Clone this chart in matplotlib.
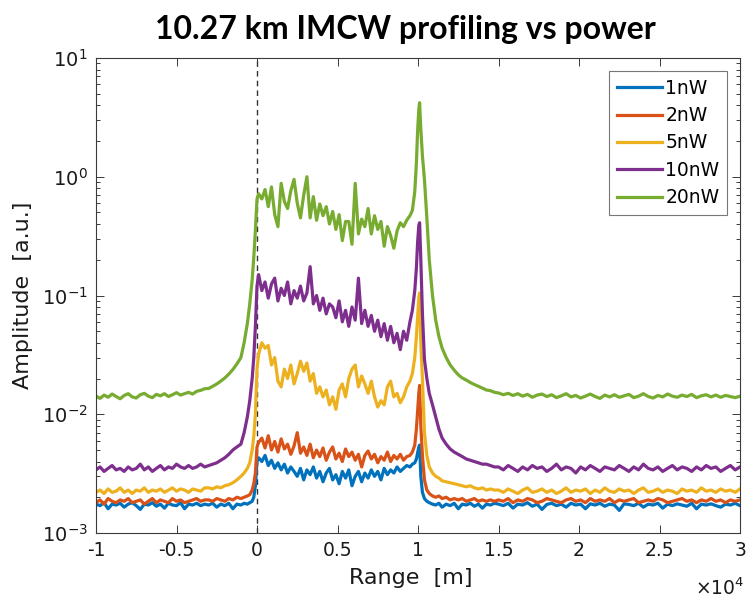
import numpy as np
import matplotlib
matplotlib.use("Agg")
import matplotlib.pyplot as plt
from matplotlib.ticker import LogLocator, FixedLocator, FuncFormatter, NullFormatter

# ---------------- data (range in metres, amplitude in units of 1e-3 a.u.) ----------------
UNIT = 1e-3
range_m = np.concatenate([
    np.arange(-10000, -3000, 250),                                   # 28 pts
    [-3000, -2750, -2500, -2250, -2000, -1750, -1500, -1250, -1000,
     -800, -600, -450, -300, -200, -100, 0],                         # 16 pts
    np.arange(100, 9501, 200),                                       # 48 pts
    [9650, 9800, 9900, 9975, 10050, 10100, 10175, 10275, 10400,
     10550, 10700, 10900],                                           # 12 pts
    [11100, 11300, 11500, 11750, 12000, 12250, 12500, 12750, 13000,
     13250, 13500, 13750, 14000, 14250, 14500, 14750],               # 16 pts
    np.arange(15000, 30001, 300),                                    # 51 pts
])

labels = ["1nW", "2nW", "5nW", "10nW", "20nW"]

amp_1nW = [
    1.75, 1.7, 1.8, 1.6, 1.75, 1.72, 1.78, 1.65, 1.75, 1.8, 1.7, 1.58, 1.75, 1.72, 1.8, 1.68, 1.75, 1.62, 1.78, 1.72,
    1.7, 1.8, 1.6, 1.75, 1.72, 1.78, 1.7, 1.75,
    1.72, 1.78, 1.65, 1.75, 1.7, 1.78, 1.6, 1.75, 1.72, 1.78, 1.75, 1.8, 1.85, 2.0, 2.5, 4.0,
    4.3, 4.0, 4.5, 3.7, 4.1, 3.5, 3.9, 3.4, 3.8, 3.2, 3.6, 3.3, 3.0, 3.5, 2.8, 3.4, 3.1, 3.6, 2.9, 3.3,
    2.7, 3.2, 3.5, 2.8, 3.1, 2.6, 3.3, 2.9, 3.4, 2.5, 3.0, 3.3, 2.7, 3.2, 2.9, 3.4, 3.0, 3.3, 2.8, 3.5,
    3.1, 3.4, 3.2, 3.6, 3.3, 3.5, 3.7, 3.6,
    3.8, 3.9, 4.2, 4.7, 5.3, 5.5, 3.0, 2.2, 1.95, 1.85, 1.8, 1.75,
    1.72, 1.78, 1.65, 1.75, 1.7, 1.78, 1.6, 1.75, 1.72, 1.78, 1.68, 1.75, 1.62, 1.75, 1.72, 1.78,
    1.75, 1.7, 1.78, 1.62, 1.75, 1.72, 1.8, 1.68, 1.75, 1.58, 1.74, 1.78, 1.7, 1.75, 1.65, 1.78, 1.72, 1.75, 1.6, 1.76,
    1.72, 1.78, 1.68, 1.75, 1.72, 1.55, 1.76, 1.74, 1.7, 1.78, 1.65, 1.75, 1.72, 1.78, 1.62, 1.75, 1.7, 1.76, 1.72, 1.68,
    1.78, 1.6, 1.75, 1.72, 1.76, 1.7, 1.65, 1.75, 1.72, 1.78, 1.7,
]

amp_2nW = [
    1.8, 1.9, 1.75, 1.95, 1.85, 1.8, 1.9, 1.85, 1.95, 1.8, 1.85, 1.9, 1.75, 1.85, 1.95, 1.8, 1.9, 1.85, 1.8, 1.95,
    1.85, 1.9, 1.8, 1.85, 1.9, 1.95, 1.85, 1.9,
    1.9, 1.85, 1.95, 1.9, 1.85, 1.95, 1.9, 2.0, 1.95, 2.0, 2.05, 2.1, 2.3, 2.6, 3.2, 5.3,
    5.8, 6.3, 5.2, 6.6, 5.0, 5.9, 4.8, 6.2, 5.1, 5.6, 4.6, 5.4, 7.0, 4.7, 5.3, 4.5, 5.6, 4.3, 5.0, 4.4,
    5.2, 4.1, 4.8, 5.3, 4.2, 4.7, 4.0, 5.1, 4.4, 4.8, 4.1, 4.6, 3.6, 4.5, 4.9, 4.2, 4.6, 3.9, 4.4, 4.1,
    4.8, 4.0, 4.5, 4.2, 4.6, 4.1, 4.4, 4.5,
    4.8, 5.5, 7.5, 10.5, 15, 17.5, 8, 4.5, 2.8, 2.3, 2.15, 2.05,
    2.0, 2.05, 1.95, 2.0, 1.9, 1.95, 1.9, 1.95, 1.85, 1.9, 1.95, 1.85, 1.9, 1.85, 1.9, 1.85,
    1.9, 1.85, 1.95, 1.8, 1.9, 1.85, 1.95, 1.9, 1.8, 1.85, 1.95, 1.9, 1.85, 1.8, 1.9, 1.95, 1.85, 1.9, 1.8, 1.95,
    1.85, 1.9, 1.85, 1.95, 1.8, 1.9, 1.85, 1.9, 1.95, 1.8, 1.85, 1.9, 1.85, 1.95, 1.9, 1.8, 1.85, 1.9, 1.95, 1.85,
    1.9, 1.8, 1.9, 1.85, 1.95, 1.85, 1.9, 1.8, 1.9, 1.85, 1.9,
]

amp_5nW = [
    2.2, 2.3, 2.15, 2.35, 2.2, 2.25, 2.4, 2.2, 2.3, 2.15, 2.3, 2.25, 2.4, 2.2, 2.3, 2.25, 2.35, 2.2, 2.3, 2.4,
    2.25, 2.35, 2.3, 2.2, 2.35, 2.3, 2.25, 2.4,
    2.4, 2.35, 2.45, 2.4, 2.5, 2.55, 2.65, 2.8, 3.0, 3.2, 3.5, 3.9, 5.0, 6.5, 10, 24,
    32, 40, 36, 38, 26, 30, 19, 17, 24, 20, 26, 18, 22, 28, 23, 27, 19, 22, 15, 17,
    14, 16, 12, 14, 11, 16, 18, 14, 20, 24, 26, 17, 21, 18, 15, 19, 14, 11.5, 13, 12,
    17, 19, 14, 15, 12.5, 14, 17, 19,
    22, 30, 45, 65, 95, 105, 40, 20, 7, 4.5, 3.6, 3.2,
    3.0, 2.9, 2.75, 2.7, 2.65, 2.6, 2.55, 2.5, 2.45, 2.5, 2.4, 2.35, 2.4, 2.3, 2.35, 2.3,
    2.3, 2.2, 2.35, 2.25, 2.15, 2.3, 2.4, 2.2, 2.25, 2.35, 2.2, 2.3, 2.15, 2.25, 2.4, 2.2, 2.3, 2.25, 2.35, 2.15,
    2.3, 2.2, 2.4, 2.25, 2.2, 2.35, 2.25, 2.3, 2.15, 2.3, 2.4, 2.2, 2.25, 2.35, 2.2, 2.3, 2.25, 2.15, 2.35, 2.25,
    2.3, 2.2, 2.4, 2.25, 2.3, 2.2, 2.35, 2.25, 2.3, 2.2, 2.35,
]

amp_10nW = [
    3.4, 3.6, 3.3, 3.5, 3.7, 3.4, 3.5, 3.3, 3.6, 3.4, 3.5, 3.8, 3.4, 3.6, 3.3, 3.5, 3.7, 3.4, 3.6, 3.5,
    3.8, 3.6, 3.5, 3.7, 3.5, 3.6, 3.8, 3.6,
    3.7, 3.8, 3.9, 4.1, 4.3, 4.6, 5.0, 5.3, 5.6, 7.0, 9.5, 13, 20, 30, 55, 120,
    150, 110, 130, 95, 125, 140, 90, 115, 100, 130, 85, 110, 95, 120, 90, 105, 175, 85, 100, 75,
    95, 70, 85, 80, 65, 90, 60, 75, 55, 80, 62, 140, 58, 75, 55, 68, 50, 62, 45, 58,
    42, 55, 40, 48, 35, 50, 42, 60,
    75, 110, 170, 280, 390, 410, 200, 70, 29, 20, 15, 12,
    9.5, 7.5, 6.3, 5.6, 5.1, 4.8, 4.6, 4.4, 4.2, 4.1, 4.0, 3.9, 3.8, 3.8, 3.7, 3.6,
    3.6, 3.4, 3.7, 3.5, 3.3, 3.6, 3.4, 3.7, 3.5, 3.6, 3.3, 3.5, 3.8, 3.4, 3.6, 3.5, 3.2, 3.6, 3.4, 3.7,
    3.5, 3.3, 3.6, 3.5, 3.4, 3.7, 3.5, 3.3, 3.6, 3.4, 3.8, 3.5, 3.4, 3.6, 3.3, 3.5, 3.7, 3.4, 3.6, 3.5,
    3.3, 3.6, 3.4, 3.7, 3.5, 3.6, 3.3, 3.5, 3.7, 3.4, 3.6,
]

amp_20nW = [
    14.2, 13.6, 14.5, 13.9, 14.8, 14.1, 13.5, 14.4, 14.9, 14.0, 13.7, 14.6, 15.0, 14.2, 13.8, 14.7, 14.3, 14.9, 14.1, 14.6,
    15.2, 14.5, 14.9, 15.3, 14.8, 15.6, 15.9, 16.4,
    16.5, 17.2, 18.0, 19.0, 20.2, 21.8, 23.8, 26.5, 30, 40, 58, 85, 135, 210, 350, 650,
    720, 650, 780, 560, 820, 480, 380, 880, 620, 540, 760, 950, 600, 450, 700, 1000, 450, 680, 430, 590,
    470, 560, 400, 510, 360, 480, 290, 420, 420, 270, 880, 330, 440, 380, 540, 330, 470, 360, 420, 260,
    380, 320, 250, 350, 410, 380, 430, 470,
    520, 750, 1300, 2400, 3700, 4200, 2500, 1500, 950, 450, 200, 100,
    62, 45, 36, 30, 26, 23.5, 21.5, 20.2, 19.4, 18.5, 17.8, 17.2, 16.6, 16.0, 15.8, 15.3,
    15.1, 14.6, 15.0, 14.4, 14.9, 14.2, 14.7, 13.9, 14.5, 14.8, 14.1, 14.6, 13.8, 14.3, 14.9, 14.0, 14.4, 13.7, 14.2, 14.8,
    14.1, 13.6, 14.5, 14.0, 14.6, 13.9, 14.3, 14.7, 13.8, 14.2, 14.9, 14.1, 13.7, 14.4, 14.0, 14.8, 14.2, 13.9, 14.5, 14.1,
    14.7, 13.8, 14.3, 14.6, 14.0, 14.5, 13.9, 14.4, 14.1, 13.8, 14.2,
]

series = [amp_1nW, amp_2nW, amp_5nW, amp_10nW, amp_20nW]
colors = ["#0072BD", "#D95319", "#EDB120", "#7E2F8E", "#77AC30"]

# ---------------- figure ----------------
plt.rcParams["font.family"] = ["DejaVu Sans"]
plt.rcParams["mathtext.fontset"] = "dejavusans"
W, H = 749, 603
fig = plt.figure(figsize=(W / 100, H / 100), dpi=100)
L, R, T, B = 96, 740, 58, 533
ax = fig.add_axes([L / W, 1 - B / H, (R - L) / W, (B - T) / H])

for vals, c, lab in zip(series, colors, labels):
    ax.plot(range_m, np.asarray(vals) * UNIT, color=c, lw=2.3, label=lab, solid_joinstyle="round")

ax.axvline(0, color="#333333", lw=1.0, ls=(0, (4, 3)), zorder=0.5)

ax.set_yscale("log")
ax.set_ylim(1e-3, 1e1)
ax.set_xlim(-10000, 30000)

ax.xaxis.set_major_locator(FixedLocator(np.arange(-10000, 30001, 5000)))
ax.xaxis.set_major_formatter(FuncFormatter(lambda v, p: f"{v / 1e4:g}".replace("\u2212", "-")))
ax.yaxis.set_major_locator(LogLocator(base=10, numticks=10))
ax.yaxis.set_minor_locator(LogLocator(base=10, subs=np.arange(2, 10), numticks=20))
ax.yaxis.set_minor_formatter(NullFormatter())

edge = "#3a3a3a"
for s in ax.spines.values():
    s.set_color(edge)
    s.set_linewidth(0.8)
ax.tick_params(which="both", direction="in", top=True, right=True, colors=edge,
               labelcolor="#1a1a1a", width=0.7)
ax.tick_params(axis="x", labelsize=13.5)
ax.tick_params(axis="y", labelsize=14)
ax.tick_params(which="major", length=6, pad=6)
ax.tick_params(which="minor", length=3)

ax.set_ylabel("Amplitude  [a.u.]", fontsize=16, color="#1a1a1a", labelpad=6)
fig.text(411 / W, 1 - 578 / H, "Range  [m]", fontsize=16, color="#1a1a1a", ha="center", va="center")
fig.text(720 / W, 1 - 588 / H, r"$\times\mathdefault{10^{4}}$", fontsize=13.5, color="#1a1a1a",
         ha="center", va="center")

fig.text(405 / W, 1 - 30 / H, "10.27 km IMCW profiling vs power", fontsize=23,
         fontweight="bold", family=["Lato", "DejaVu Sans"], ha="center", va="center")

leg = ax.legend(loc="upper right", fontsize=13.5, frameon=True, fancybox=False,
                edgecolor="#555555", handlelength=2.4, handletextpad=0.2,
                labelspacing=0.45, borderaxespad=0.7, borderpad=0.4)
leg.get_frame().set_linewidth(0.8)
for line in leg.get_lines():
    line.set_linewidth(2.3)

fig.savefig("out.png", dpi=100)
